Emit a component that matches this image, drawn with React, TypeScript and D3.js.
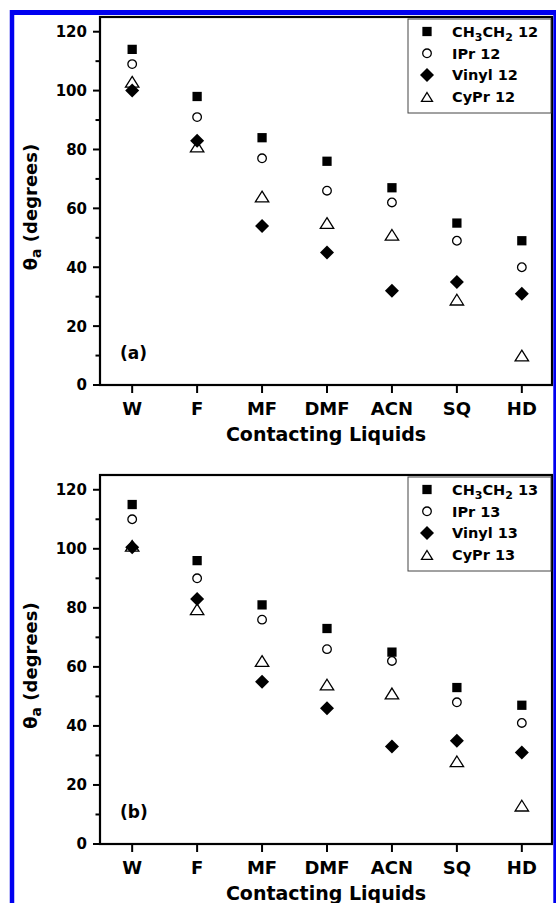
import * as d3 from 'd3';
import React from 'react';

// contacting liquids (x categories)
const liquids = ['W', 'F', 'MF', 'DMF', 'ACN', 'SQ', 'HD'];

// panel (a): advancing contact angles, SAMs from 12
const ethyl12 = [114, 98, 84, 76, 67, 55, 49];
const ipr12 = [109, 91, 77, 66, 62, 49, 40];
const vinyl12 = [100, 83, 54, 45, 32, 35, 31];
const cypr12 = [103, 81, 64, 55, 51, 29, 10];

// panel (b): same for 13
const ethyl13 = [115, 96, 81, 73, 65, 53, 47];
const ipr13 = [110, 90, 76, 66, 62, 48, 41];
const vinyl13 = [100.5, 83, 55, 46, 33, 35, 31];
const cypr13 = [101, 79.5, 62, 54, 51, 28, 13];

const yTicks = [0, 20, 40, 60, 80, 100, 120];
const yMinorTicks = [10, 30, 50, 70, 90, 110];

const FONT = '"DejaVu Sans", Verdana, sans-serif';

// plot frame
const frameLeft = 100;
const frameRight = 552;

// open triangle centred on its box (d3's own one sits on its centroid)
const openTriangle = {
  draw(context, size) {
    const w = Math.sqrt(size);
    const h = w * 0.8;
    context.moveTo(0, -h / 2);
    context.lineTo(w / 2, h / 2);
    context.lineTo(-w / 2, h / 2);
    context.closePath();
  }
};

const diamondType = d3.symbolDiamond2 || {
  draw(context, size) {
    const r = Math.sqrt(size) * 0.62625;
    context.moveTo(0, -r);
    context.lineTo(r, 0);
    context.lineTo(0, r);
    context.lineTo(-r, 0);
    context.closePath();
  }
};

const markers = [
  { key: 'ethyl', path: d3.symbol(d3.symbolSquare, 86)(), fill: '#000', stroke: 'none' },
  { key: 'ipr', path: d3.symbol(d3.symbolCircle, 58)(), fill: '#fff', stroke: '#000' },
  { key: 'vinyl', path: d3.symbol(diamondType, 125)(), fill: '#000', stroke: 'none' },
  { key: 'cypr', path: d3.symbol(openTriangle, 180)(), fill: 'none', stroke: '#000' }
];

// legend uses a slightly smaller triangle
const legendTriangle = d3.symbol(openTriangle, 120)();

function Panel({ top, bottom, series, suffix, tag }) {

  const y = d3.scaleLinear().domain([0, 125]).range([bottom, top]);

  const x = d3.scalePoint()
    .domain(liquids)
    .range([frameLeft + 1, frameRight + 1])
    .padding(0.48);

  const legendTop = top + 2;
  const legendLeft = 408;
  const legendRows = [
    { m: markers[0], label: (
      <>CH<tspan fontSize={11} dy={4}>3</tspan><tspan dy={-4}>CH</tspan><tspan fontSize={11} dy={4}>2</tspan><tspan dy={-4}>{' ' + suffix}</tspan></>
    ) },
    { m: markers[1], label: 'IPr ' + suffix },
    { m: markers[2], label: 'Vinyl ' + suffix },
    { m: { ...markers[3], path: legendTriangle }, label: 'CyPr ' + suffix }
  ];

  const midY = (top + bottom) / 2 + 6;

  return (
    <g fontFamily={FONT} fontWeight="bold">
      {/* frame */}
      <rect x={frameLeft} y={top} width={frameRight - frameLeft} height={bottom - top}
        fill="none" stroke="#000" strokeWidth={2.2} />

      {/* y ticks */}
      {yTicks.map(t => (
        <g key={'y' + t}>
          <line x1={frameLeft - 7} x2={frameLeft} y1={y(t)} y2={y(t)} stroke="#000" strokeWidth={2} />
          <text x={87} y={y(t)} dy="0.36em" textAnchor="end" fontSize={15}>{t}</text>
        </g>
      ))}
      {yMinorTicks.map(t => (
        <line key={'m' + t} x1={frameLeft - 4.5} x2={frameLeft} y1={y(t)} y2={y(t)} stroke="#000" strokeWidth={2} />
      ))}

      {/* x ticks */}
      {liquids.map(l => (
        <g key={'x' + l}>
          <line x1={x(l)} x2={x(l)} y1={bottom} y2={bottom + 8} stroke="#000" strokeWidth={2} />
          <text x={x(l)} y={bottom + 30} textAnchor="middle" fontSize={18}>{l}</text>
        </g>
      ))}

      {/* axis titles */}
      <text x={(frameLeft + frameRight) / 2} y={bottom + 56} textAnchor="middle" fontSize={19}>
        Contacting Liquids
      </text>
      <text transform={`translate(37,${midY}) rotate(-90)`} textAnchor="middle" fontSize={18}>
        θ<tspan fontSize={14} dy={4}>a</tspan><tspan dy={-4}> (degrees)</tspan>
      </text>

      <text x={120} y={bottom - 26} fontSize={17}>{tag}</text>

      {/* data points */}
      {series.map((vals, si) => (
        <g key={markers[si].key}>
          {vals.map((v, i) => (
            <path key={i} d={markers[si].path}
              transform={`translate(${x(liquids[i])},${y(v)})`}
              fill={markers[si].fill} stroke={markers[si].stroke} strokeWidth={1.3} />
          ))}
        </g>
      ))}

      {/* legend */}
      <rect x={legendLeft} y={legendTop} width={frameRight - legendLeft - 1} height={94}
        fill="#fff" stroke="#444" strokeWidth={1} />
      {legendRows.map((r, i) => (
        <g key={'lg' + i} transform={`translate(0,${legendTop + 12.5 + i * 21.8})`}>
          <path d={r.m.path} transform={`translate(${legendLeft + 19},0)`}
            fill={r.m.fill} stroke={r.m.stroke} strokeWidth={1.3} />
          <text x={legendLeft + 44} y={0} dy="0.36em" fontSize={14.5}>{r.label}</text>
        </g>
      ))}
    </g>
  );
}

export default function App() {
  return (
    <svg width={556} height={903} style={{ position: 'absolute', left: 0, top: 0, background: '#fff' }}>
      <Panel top={17} bottom={385} series={[ethyl12, ipr12, vinyl12, cypr12]} suffix="12" tag="(a)" />
      <Panel top={475} bottom={844} series={[ethyl13, ipr13, vinyl13, cypr13]} suffix="13" tag="(b)" />

      {/* blue page border */}
      <line x1={12} x2={12} y1={10} y2={903} stroke="#0000f0" strokeWidth={4.5} />
      <line x1={10} x2={556} y1={12.5} y2={12.5} stroke="#0000f0" strokeWidth={5} />
      <line x1={554.8} x2={554.8} y1={10} y2={903} stroke="#0000f0" strokeWidth={3} />
    </svg>
  );
}
